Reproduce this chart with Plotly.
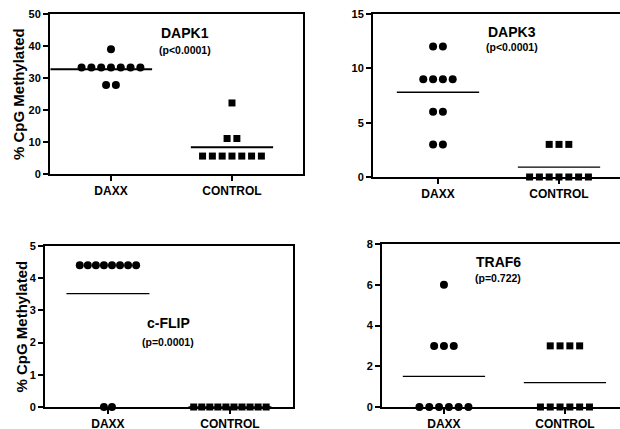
import plotly.graph_objects as go

# ---------------- data ----------------
groups = ["DAXX", "CONTROL"]

dapk1_daxx = [39, 33.3, 33.3, 33.3, 33.3, 33.3, 33.3, 33.3, 27.8, 27.8]
dapk1_control = [22.2, 11.1, 11.1, 5.6, 5.6, 5.6, 5.6, 5.6, 5.6, 5.6]

dapk3_daxx = [12, 12, 9, 9, 9, 9, 6, 6, 3, 3]
dapk3_control = [3, 3, 3, 0, 0, 0, 0, 0, 0, 0]

cflip_daxx = [4.4, 4.4, 4.4, 4.4, 4.4, 4.4, 4.4, 4.4, 0, 0]
cflip_control = [0, 0, 0, 0, 0, 0, 0, 0, 0, 0]

traf6_daxx = [6, 3, 3, 3, 0, 0, 0, 0, 0, 0]
traf6_control = [3, 3, 3, 3, 0, 0, 0, 0, 0, 0]

gene_names = ["DAPK1", "DAPK3", "c-FLIP", "TRAF6"]
p_labels = ["(p<0.0001)", "(p<0.0001)", "(p=0.0001)", "(p=0.722)"]
y_max = [50, 15, 5, 8]
y_dtick = [10, 5, 1, 2]

# ---------------- layout helpers ----------------
W, H = 620, 429
FONT = "Liberation Sans, Arial, sans-serif"

def px_x(a, b):
    return [a / W, min(b / W, 1.0)]

def px_y(top, bottom):
    return [(H - bottom) / H, (H - top) / H]

panels = [
    dict(daxx=dapk1_daxx, ctrl=dapk1_control, xd=px_x(50, 303), yd=px_y(14, 174),
         xr=[0.496, 2.587], right=True, spacing=0.081, lw=2.0,
         ann=(185, 33, 50), ytitle=18),
    dict(daxx=dapk3_daxx, ctrl=dapk3_control, xd=px_x(373, 620), yd=px_y(14, 177),
         xr=[0.463, 2.504], right=False, spacing=0.081, lw=1.3,
         ann=(512, 32, 47), ytitle=None),
    dict(daxx=cflip_daxx, ctrl=cflip_control, xd=px_x(45, 293), yd=px_y(246, 407),
         xr=[0.484, 2.517], right=True, spacing=0.066, lw=1.3,
         ann=(168, 323, 342), ytitle=21),
    dict(daxx=traf6_daxx, ctrl=traf6_control, xd=px_x(382, 620), yd=px_y(244, 407),
         xr=[0.488, 2.455], right=False, spacing=0.081, lw=1.3,
         ann=(498, 262, 278), ytitle=None),
]


def spread(values, center, spacing):
    """Horizontal dot-plot offsets for points that share a value."""
    xs = [0.0] * len(values)
    seen = {}
    for i, v in enumerate(values):
        seen.setdefault(v, []).append(i)
    for v, idx in seen.items():
        n = len(idx)
        for k, i in enumerate(idx):
            xs[i] = center + (k - (n - 1) / 2) * spacing
    return xs


fig = go.Figure()
layout = dict(
    width=W, height=H, margin=dict(l=0, r=0, t=0, b=0, autoexpand=False),
    paper_bgcolor="white", plot_bgcolor="white", showlegend=False,
    font=dict(family=FONT, color="black"),
)
annotations = []

for i, p in enumerate(panels):
    n = "" if i == 0 else str(i + 1)
    xa, ya = "x" + n, "y" + n
    for gi, (vals, sym, msize) in enumerate([(p["daxx"], "circle", 8), (p["ctrl"], "square", 7)]):
        c = gi + 1
        xs = spread(vals, c, p["spacing"])
        fig.add_trace(go.Scatter(
            x=xs, y=vals, mode="markers", xaxis=xa, yaxis=ya,
            marker=dict(symbol=sym, size=msize, color="black", line=dict(width=0)),
            cliponaxis=False, hoverinfo="skip"))
        # mean line
        mean = sum(vals) / len(vals)
        left = c - 0.34
        if i == 0 and gi == 0:
            left = p["xr"][0] + 0.004
        fig.add_trace(go.Scatter(
            x=[left, c + 0.34], y=[mean, mean], mode="lines", xaxis=xa, yaxis=ya,
            line=dict(color="black", width=p["lw"]), cliponaxis=False, hoverinfo="skip"))

    layout["xaxis" + n] = dict(
        domain=p["xd"], range=p["xr"], anchor=ya, automargin=False,
        showline=True, linecolor="black", linewidth=2, mirror=True,
        showgrid=False, zeroline=False,
        tickmode="array", tickvals=[1, 2], ticktext=groups,
        ticks="outside", ticklen=5, tickwidth=2, tickcolor="black",
        tickfont=dict(family=FONT, size=12, weight="bold", color="black"),
    )
    layout["yaxis" + n] = dict(
        domain=p["yd"], range=[0, y_max[i]], anchor=xa, automargin=False,
        showline=True, linecolor="black", linewidth=2, mirror=p["right"],
        showgrid=False, zeroline=False,
        dtick=y_dtick[i], tick0=0,
        ticks="outside", ticklen=5, tickwidth=2, tickcolor="black",
        tickfont=dict(family=FONT, size=11, weight="bold", color="black"),
    )
    ax, ay1, ay2 = p["ann"]
    annotations.append(dict(
        x=ax / W, y=(H - ay1) / H, xref="paper", yref="paper",
        xanchor="center", yanchor="middle",
        text=gene_names[i], showarrow=False,
        font=dict(family=FONT, size=14, weight="bold", color="black")))
    annotations.append(dict(
        x=ax / W, y=(H - ay2) / H, xref="paper", yref="paper",
        xanchor="center", yanchor="middle",
        text=p_labels[i], showarrow=False,
        font=dict(family=FONT, size=10.5, weight="bold", color="black")))
    if p["ytitle"] is not None:
        yc = (p["yd"][0] + p["yd"][1]) / 2
        annotations.append(dict(
            x=p["ytitle"] / W, y=yc, xref="paper", yref="paper",
            xanchor="center", yanchor="middle",
            text="% CpG Methylated", textangle=-90, showarrow=False,
            font=dict(family=FONT, size=15, weight="bold", color="black")))

layout["annotations"] = annotations
fig.update_layout(**layout)
fig.write_html("out.html", config={"displayModeBar": False},
               post_script="document.body.style.margin='0';document.body.style.padding='0';")
